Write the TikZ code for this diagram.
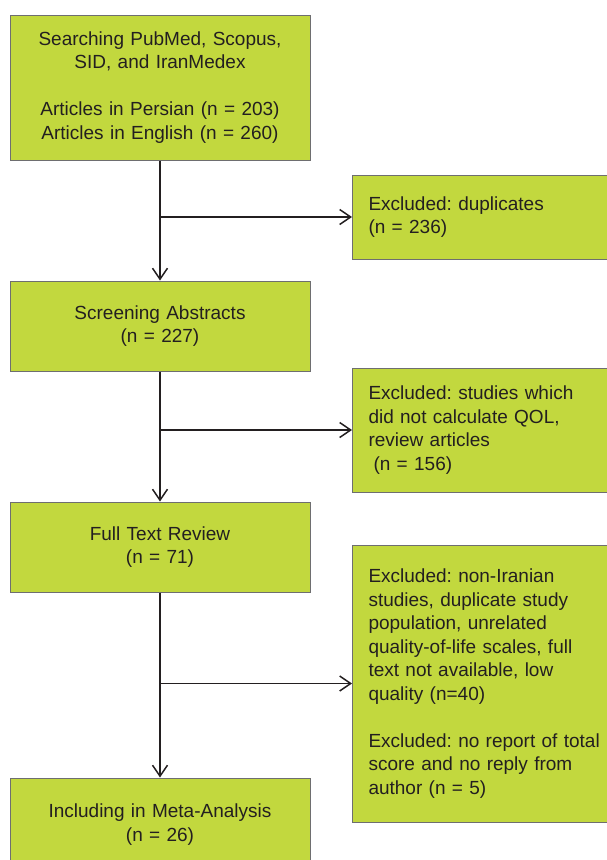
\documentclass[tikz,border=0pt]{standalone}
\usepackage{fontspec}
\setmainfont{Liberation Sans}
\usetikzlibrary{arrows.meta,positioning}
\definecolor{boxfill}{RGB}{194,216,62}
\definecolor{boxline}{RGB}{110,110,112}
\definecolor{ink}{RGB}{35,31,32}
\frenchspacing

\begin{document}
\begin{tikzpicture}[x=1pt, y=1pt,
    stage/.style={draw=boxline, fill=boxfill, line width=1pt, align=center, text width=280pt, minimum width=300pt, inner sep=0pt, text=ink, font=\fontsize{19}{23.5}\selectfont},
    excl/.style={draw=boxline, fill=boxfill, line width=1pt, align=left, text width=300pt, inner xsep=16pt, inner ysep=0pt, anchor=west, text=ink, font=\fontsize{19}{23.5}\selectfont},
    arrow/.style={-{Straight Barb[length=11pt,width=15pt]}, line width=1.5pt, draw=ink}
]
\useasboundingbox (0,0) rectangle (607,-860);

\node[stage, minimum height=145pt] (b1) at (160,-87.5) {Searching PubMed, Scopus,\\SID, and IranMedex\\[23.5pt]Articles in Persian (n = 203)\\Articles in English (n = 260)};
\node[stage, minimum height=90pt, below=120pt of b1] (b2) {Screening Abstracts\\(n = 227)};
\node[stage, minimum height=90pt, below=130pt of b2] (b3) {Full Text Review\\(n = 71)};
\node[stage, minimum height=93pt, below=185pt of b3] (b4) {Including in Meta-Analysis\\(n = 26)};

\node[excl, minimum height=84pt] (r1) at (352,-217) {Excluded: duplicates\\(n = 236)};
\node[excl, minimum height=124pt] (r2) at (352,-430) {Excluded: studies which\\did not calculate QOL,\\review articles\\\hspace*{5pt}(n = 156)};
\node[excl, minimum height=277pt] (r3) at (352,-683.5) {Excluded: non-Iranian\\studies, duplicate study\\population, unrelated\\quality-of-life scales, full\\text not available, low\\quality (n=40)\\[23.5pt]Excluded: no report of total\\score and no reply from\\author (n = 5)};

\draw[arrow] (b1) -- (b2);
\draw[arrow] (b2) -- (b3);
\draw[arrow] (b3) -- (b4);
\draw[arrow] (b1.south |- r1.west) -- (r1.west);
\draw[arrow] (b2.south |- r2.west) -- (r2.west);
\draw[arrow] (b3.south |- r3.west) -- (r3.west);
\end{tikzpicture}
\end{document}
